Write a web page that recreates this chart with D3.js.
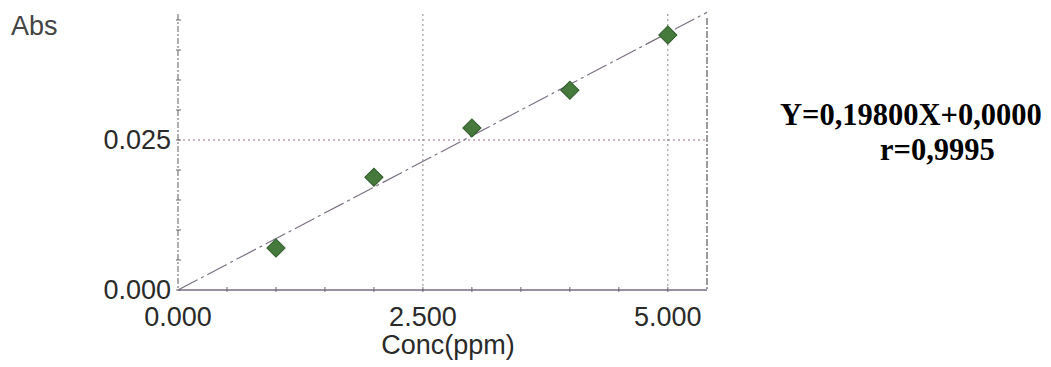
<!DOCTYPE html>
<html>
<head>
<meta charset="utf-8">
<script src="https://cdn.jsdelivr.net/npm/d3@7"></script>
<style>
  body { margin: 0; background: #fff; }
  svg { display: block; }
</style>
</head>
<body>
<div class="cichart"></div>
<script>
// data
var concValues = [1, 2, 3, 4, 5];
var absValues = [0.0070, 0.0188, 0.0270, 0.0333, 0.0425];
var xTickValues = [0, 2.5, 5];
var xTickLabels = ["0.000", "2.500", "5.000"];
var yTickValues = [0, 0.025];
var yTickLabels = ["0.000", "0.025"];
var equationLines = ["Y=0,19800X+0,0000", "r=0,9995"];

var width = 1051, height = 367;

var x = d3.scaleLinear().domain([0, 5.4]).range([178, 707]);
var y = d3.scaleLinear().domain([0, 0.025]).range([290, 140]);
var yTop = y.invert(14);

var svg = d3.select(".cichart").append("svg")
    .attr("width", width)
    .attr("height", height);

// least squares through origin for the calibration line
var sxy = d3.sum(concValues, function (d, i) { return d * absValues[i]; });
var sxx = d3.sum(concValues, function (d) { return d * d; });
var slope = sxy / sxx;

// grid lines
svg.append("g").selectAll("line")
    .data([2.5, 5])
    .enter().append("line")
    .attr("x1", function (d) { return x(d); })
    .attr("x2", function (d) { return x(d); })
    .attr("y1", y(yTop))
    .attr("y2", y(0))
    .style("stroke", "#8a8a8a")
    .style("stroke-width", 1)
    .style("stroke-dasharray", "2,3");

svg.append("line")
    .attr("x1", x(0)).attr("x2", x(5.4))
    .attr("y1", y(0.025)).attr("y2", y(0.025))
    .style("stroke", "#9a6a8a")
    .style("stroke-width", 1.2)
    .style("stroke-dasharray", "2,3");

// right border
svg.append("line")
    .attr("x1", x(5.4)).attr("x2", x(5.4))
    .attr("y1", y(yTop) + 4).attr("y2", y(0))
    .style("stroke", "#666")
    .style("stroke-width", 1.3)
    .style("stroke-dasharray", "7,2,2,2");

// y axis (dashed) with minor ticks
svg.append("line")
    .attr("x1", x(0)).attr("x2", x(0))
    .attr("y1", y(yTop)).attr("y2", y(0))
    .style("stroke", "#777")
    .style("stroke-width", 1.2)
    .style("stroke-dasharray", "6,2,2,2");

svg.append("g").selectAll("line")
    .data(d3.range(0, 0.0461, 0.005))
    .enter().append("line")
    .attr("x1", x(0) - 2).attr("x2", x(0) + 3)
    .attr("y1", function (d) { return y(d); })
    .attr("y2", function (d) { return y(d); })
    .style("stroke", "#666")
    .style("stroke-width", 1);

// x axis with minor ticks
svg.append("line")
    .attr("x1", x(0)).attr("x2", x(5.4))
    .attr("y1", y(0)).attr("y2", y(0))
    .style("stroke", "#7a6a8a")
    .style("stroke-width", 1.5);

svg.append("g").selectAll("line")
    .data(d3.range(0.5, 5.01, 0.5))
    .enter().append("line")
    .attr("x1", function (d) { return x(d); })
    .attr("x2", function (d) { return x(d); })
    .attr("y1", y(0) - 3).attr("y2", y(0) + 2)
    .style("stroke", "#666")
    .style("stroke-width", 1);

// calibration line
svg.append("line")
    .attr("x1", x(0)).attr("y1", y(0))
    .attr("x2", x(5.4)).attr("y2", y(5.4 * slope))
    .style("stroke", "#7a7080")
    .style("stroke-width", 1.2)
    .style("stroke-dasharray", "22,4,3,4");

// points
svg.append("g").selectAll("path")
    .data(concValues)
    .enter().append("path")
    .attr("d", d3.symbol().type(d3.symbolSquare).size(165))
    .attr("transform", function (d, i) {
        return "translate(" + x(d) + "," + y(absValues[i]) + ") rotate(45)";
    })
    .style("fill", "#467a3c")
    .style("stroke", "#2f5a2a")
    .style("stroke-width", 1);

// tick labels
svg.append("g").selectAll("text")
    .data(xTickValues)
    .enter().append("text")
    .attr("x", function (d) { return x(d); })
    .attr("y", 326)
    .attr("text-anchor", "middle")
    .style("font", "27px 'Liberation Sans', Arial, sans-serif")
    .style("fill", "#2a2a2a")
    .text(function (d, i) { return xTickLabels[i]; });

svg.append("g").selectAll("text")
    .data(yTickValues)
    .enter().append("text")
    .attr("x", 171)
    .attr("y", function (d) { return y(d) + 9; })
    .attr("text-anchor", "end")
    .style("font", "27px 'Liberation Sans', Arial, sans-serif")
    .style("fill", "#2a2a2a")
    .text(function (d, i) { return yTickLabels[i]; });

// axis titles
svg.append("text")
    .attr("x", 11).attr("y", 35)
    .style("font", "27px 'Liberation Sans', Arial, sans-serif")
    .style("fill", "#444")
    .text("Abs");

svg.append("text")
    .attr("x", 448).attr("y", 354)
    .attr("text-anchor", "middle")
    .style("font", "27px 'Liberation Sans', Arial, sans-serif")
    .style("fill", "#2a2a2a")
    .text("Conc(ppm)");

// regression equation
svg.append("g").selectAll("text")
    .data(equationLines)
    .enter().append("text")
    .attr("x", function (d, i) { return i === 0 ? 780 : 880; })
    .attr("y", function (d, i) { return i === 0 ? 125 : 160; })
    .style("font", "bold 30.5px 'Liberation Serif', 'Times New Roman', serif")
    .style("fill", "#000")
    .text(function (d) { return d; });
</script>
</body>
</html>
